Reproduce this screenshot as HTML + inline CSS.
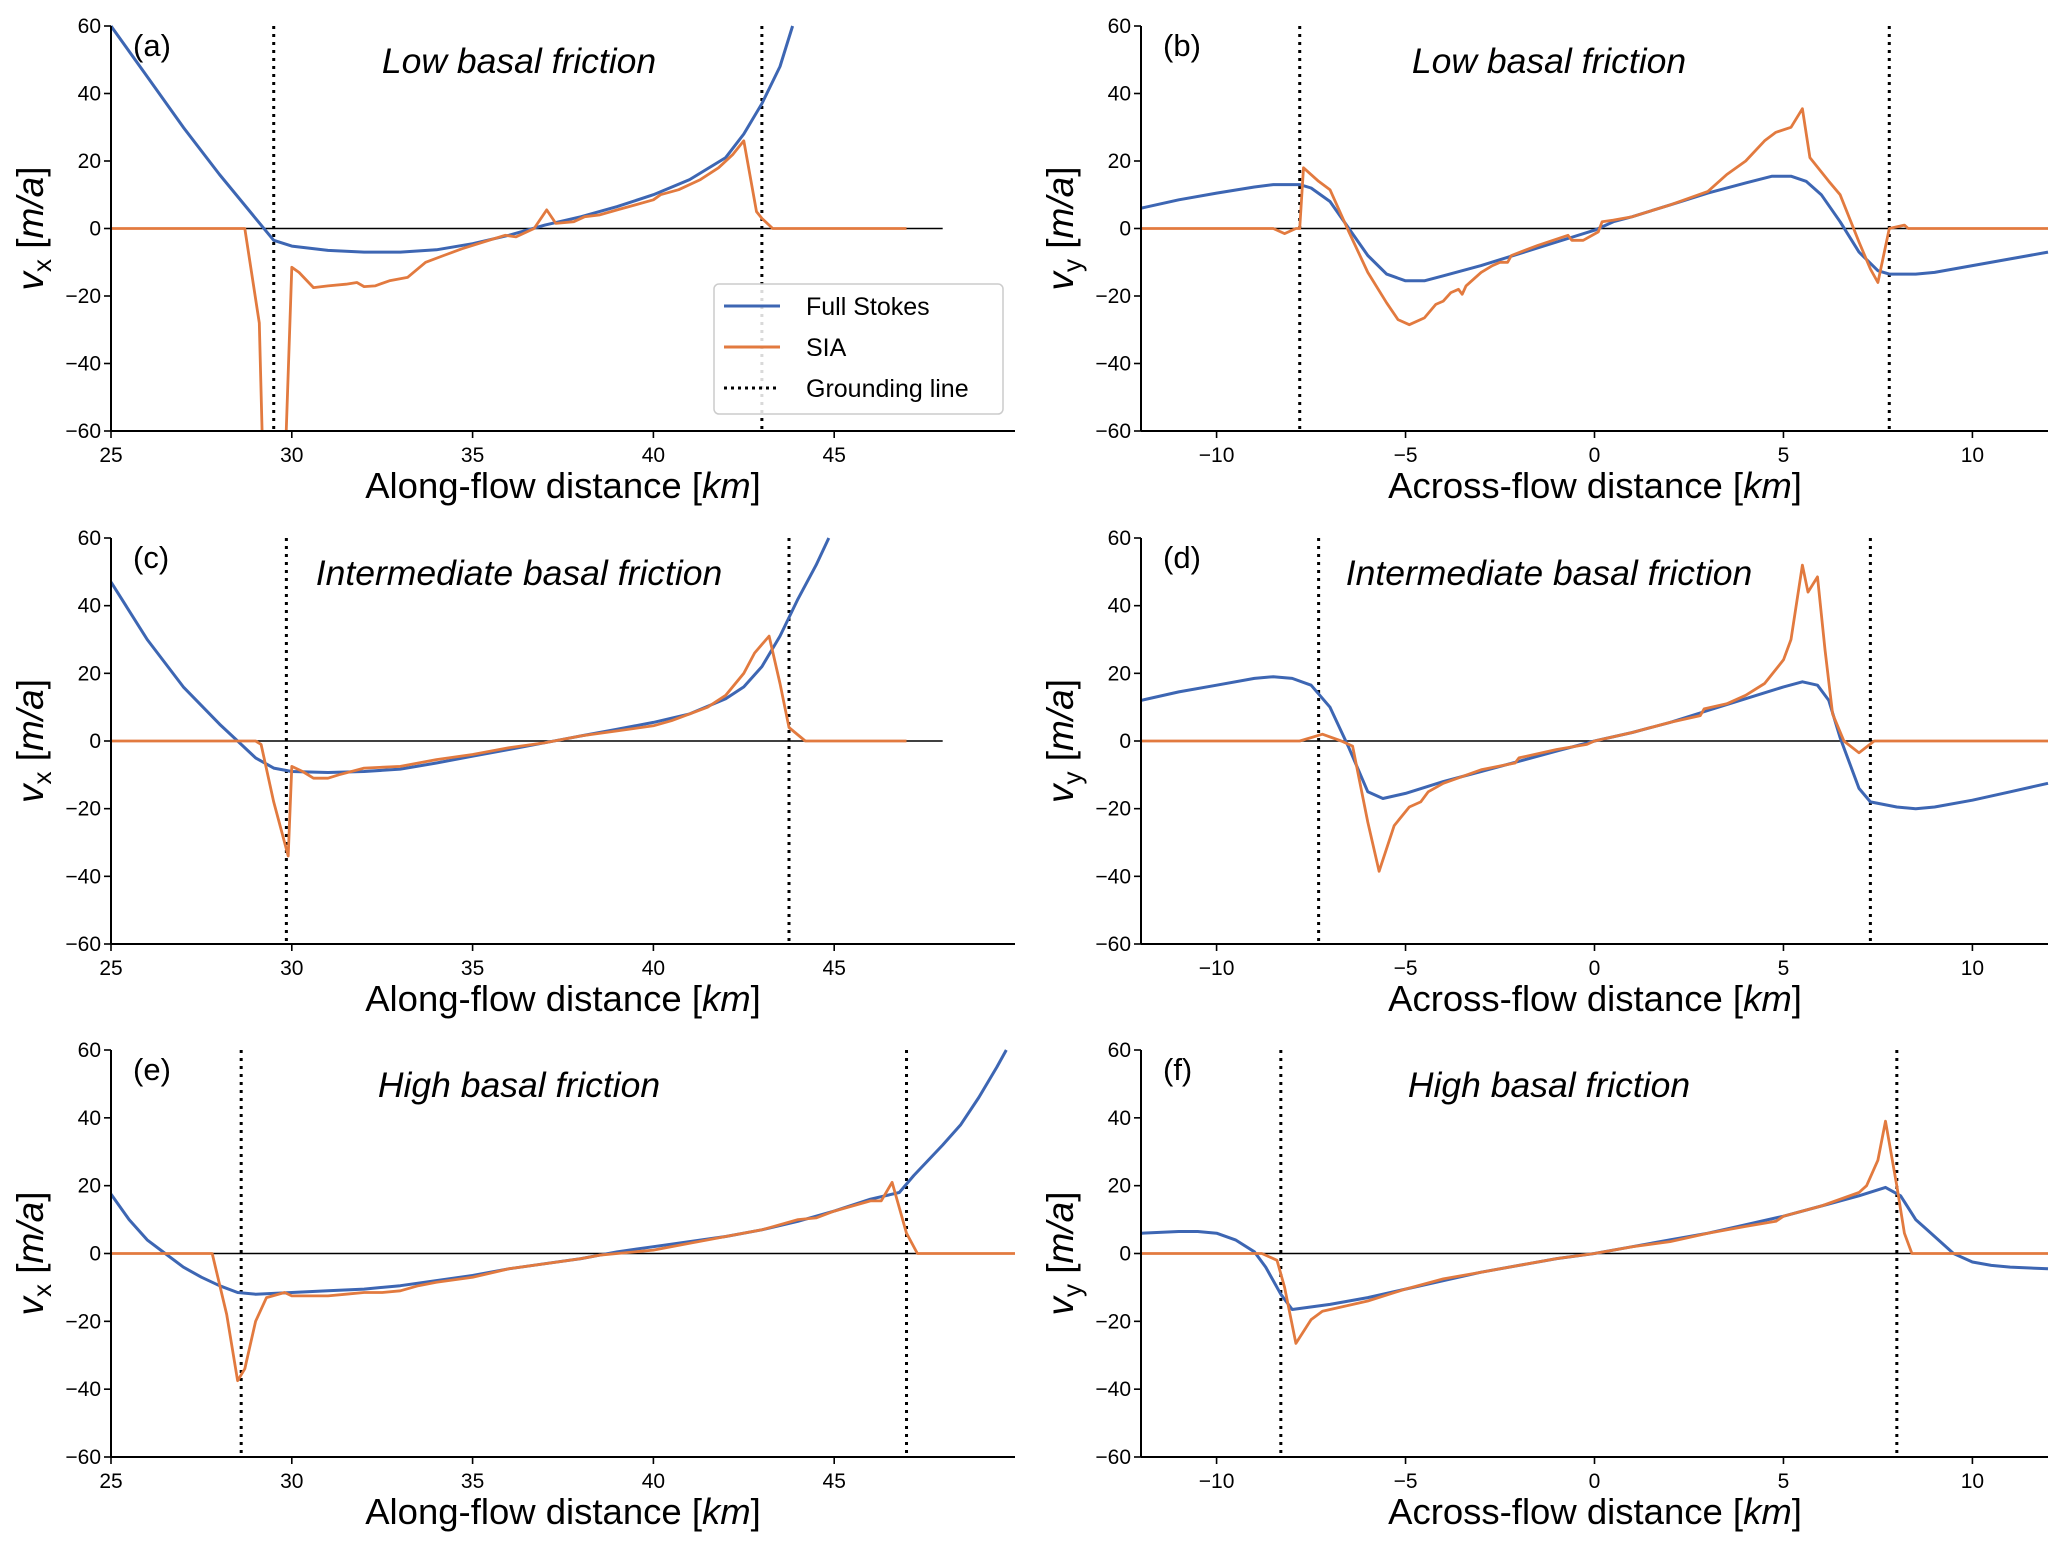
<!DOCTYPE html>
<html><head><meta charset="utf-8">
<style>
html,body{margin:0;padding:0;background:#fff;}
svg{display:block;font-family:"Liberation Sans",Arial,sans-serif;}
</style></head>
<body>
<svg id="fig" width="2067" height="1547" viewBox="0 0 2067 1547" xmlns="http://www.w3.org/2000/svg"></svg>
<script>
// ---- data ----
const aBlueX=[25,26,27,28,29,29.5,30,31,32,33,34,35,36,37,38,39,40,41,42,42.5,43,43.5,43.85];
const aBlueY=[60,45,30,16,3,-3.5,-5.2,-6.5,-7,-7,-6.3,-4.5,-2,1,3.5,6.5,10,14.5,21,28,37,48,60];
const aSiaX=[25,28.7,29.1,29.25,29.75,30,30.2,30.6,31,31.5,31.8,32,32.3,32.7,33.2,33.7,34.2,34.7,35.3,35.9,36.2,36.7,37.05,37.3,37.8,38.1,38.5,39,39.5,40,40.2,40.7,41.3,41.8,42.2,42.5,42.85,43,43.3,47];
const aSiaY=[0,0,-28,-90,-90,-11.5,-13,-17.5,-17,-16.5,-16,-17.2,-17,-15.5,-14.5,-10,-8,-6,-4,-2,-2.5,0,5.5,1.5,2,3.5,4,5.5,7,8.5,10,11.5,14.5,18,22,26,5,3,0,0];
const bBlueX=[-12,-11,-10,-9,-8.5,-7.8,-7.5,-7,-6.5,-6,-5.5,-5,-4.5,-4,-3,-2,-1,0,0.5,1,2,3,4,4.7,5.2,5.6,6,6.5,7,7.5,7.8,8.5,9,10,11,12];
const bBlueY=[6,8.5,10.5,12.3,13,13,12,8,0,-8,-13.5,-15.5,-15.5,-14,-11,-7.5,-4,-0.5,2,3.5,7,10.5,13.5,15.5,15.5,14,10,2,-7,-12.5,-13.5,-13.5,-13,-11,-9,-7];
const bSiaX=[-12,-8.5,-8.2,-7.9,-7.8,-7.7,-7.3,-7,-6.5,-6,-5.5,-5.2,-4.9,-4.5,-4.2,-4,-3.8,-3.6,-3.5,-3.4,-3,-2.7,-2.5,-2.3,-2.2,-1.5,-0.7,-0.6,-0.3,0.1,0.2,0.5,1,2,3,3.5,4,4.5,4.8,5.2,5.5,5.7,6.2,6.5,7,7.3,7.5,7.8,8.2,8.3,12];
const bSiaY=[0,0,-1.5,0,0,18,14,11.5,-1,-13,-22,-27,-28.5,-26.5,-22.5,-21.5,-19,-18,-19.5,-17,-13,-11,-10,-10,-8,-5,-2,-3.5,-3.5,-1,2,2.5,3.5,7,11,16,20,26,28.5,30,35.5,21,14,10,-4,-12,-16,0,1,0,0];
const cBlueX=[25,26,27,28,28.5,29,29.5,30,31,32,33,34,35,36,37,37.5,38,39,40,41,42,42.5,43,43.5,44,44.5,44.85];
const cBlueY=[47,30,16,5,0,-5,-8,-9,-9.3,-9,-8.3,-6.5,-4.5,-2.5,-0.5,0.5,1.5,3.5,5.5,8,12.5,16,22,31,42,52,60];
const cSiaX=[25,29,29.15,29.5,29.9,30,30.3,30.6,31,31.3,32,33,34,35,36,37,38,39,40,40.5,41,41.5,42,42.5,42.8,43.2,43.5,43.75,44.2,47];
const cSiaY=[0,0,-1,-18,-34,-7.5,-9,-11,-11,-10,-8,-7.5,-5.5,-4,-2,-0.5,1.5,3,4.5,6,8,10,13.5,20,26,31,17,4,0,0];
const dBlueX=[-12,-11,-10,-9,-8.5,-8,-7.5,-7,-6.5,-6,-5.6,-5,-4,-3,-2,-1,0,1,2,3,4,5,5.5,5.9,6.2,6.5,7,7.3,8,8.5,9,10,11,12];
const dBlueY=[12,14.5,16.5,18.5,19,18.5,16.5,10,-2,-15,-17,-15.5,-12,-9,-6,-3,0,2.5,5.5,9,12.5,16,17.5,16.5,12,1,-14,-18,-19.5,-20,-19.5,-17.5,-15,-12.5];
const dSiaX=[-12,-7.8,-7.5,-7.2,-6.7,-6.4,-6,-5.7,-5.3,-4.9,-4.6,-4.4,-4,-3,-2.1,-2,-1,-0.2,0,1,2,2.8,2.9,3.5,4,4.5,5,5.2,5.5,5.65,5.9,6.1,6.3,6.6,7,7.4,12];
const dSiaY=[0,0,1,2,0,-1.5,-24,-38.5,-25,-19.5,-18,-15,-12.5,-8.5,-6.5,-5,-2.5,-1,0,2.5,5.5,7.5,9.5,11,13.5,17,24,30,52,44,48.5,27,8,0,-3.5,0,0];
const eBlueX=[25,25.5,26,26.5,27,27.5,28,28.5,29,30,31,32,33,34,35,36,37,38,39,40,41,42,43,44,45,46,46.8,47.2,48,48.5,49,49.5,49.76];
const eBlueY=[17.5,10,4,0,-4,-7,-9.5,-11.5,-12,-11.5,-11,-10.5,-9.5,-8,-6.5,-4.5,-3,-1.5,0.5,2,3.5,5,7,9.5,12.5,16,18,23,32,38,46,55,60];
const eSiaX=[25,27.8,28.2,28.5,28.7,29,29.3,29.8,30,31,31.5,32,32.5,33,33.5,34,35,36,37,38,38.5,39,40,41,42,43,44,44.5,45,46,46.3,46.6,47,47.3,50];
const eSiaY=[0,0,-18,-37.5,-34,-20,-13,-11.5,-12.5,-12.5,-12,-11.5,-11.5,-11,-9.5,-8.5,-7,-4.5,-3,-1.5,-0.5,0,1,3,5,7,10,10.5,12.5,15.5,15.5,21,6,0,0];
const fBlueX=[-12,-11,-10.5,-10,-9.5,-9,-8.7,-8.3,-8,-7,-6,-5,-4,-3,-2,-1,0,1,2,3,4,5,6,7,7.7,8.1,8.5,8.8,9.5,10,10.5,11,12];
const fBlueY=[6,6.5,6.5,6,4,0.5,-4,-12,-16.5,-15,-13,-10.5,-8,-5.5,-3.5,-1.5,0,2,4,6,8.5,11,14,17,19.5,17,10,7,0,-2.5,-3.5,-4,-4.5];
const fSiaX=[-12,-8.8,-8.4,-8.2,-7.9,-7.5,-7.2,-6,-5,-4,-3,-2,-1,0,1,2,3,4,4.8,5,6,7,7.2,7.5,7.7,8.0,8.2,8.4,12];
const fSiaY=[0,0,-2,-10,-26.5,-19.5,-17,-14,-10.5,-7.5,-5.5,-3.5,-1.5,0,2,3.5,6,8,9.5,11,14,18,20,27.5,39,20,6,0,0];
const leftTicks=[25,30,35,40,45];
const rightTicks=[-10,-5,0,5,10];
const yTicks=[-60,-40,-20,0,20,40,60];
const titles=["Low basal friction","Low basal friction","Intermediate basal friction","Intermediate basal friction","High basal friction","High basal friction"];
const letters=["(a)","(b)","(c)","(d)","(e)","(f)"];
const groundA=[29.5,43.0], groundB=[-7.8,7.8], groundC=[29.85,43.75], groundD=[-7.3,7.3], groundE=[28.6,47.0], groundF=[-8.3,8.0];

const NS="http://www.w3.org/2000/svg";
const svg=document.getElementById('fig');
const BLUE="#3d66b3", ORANGE="#e27a3f";
function mk(tag,attrs,parent){const e=document.createElementNS(NS,tag);for(const k in attrs)e.setAttribute(k,attrs[k]);(parent||svg).appendChild(e);return e;}

const rows=[[26,431],[538,944],[1050,1457]];
const panels=[
 {col:0,row:0,bx:aBlueX,by:aBlueY,sx:aSiaX,sy:aSiaY,g:groundA,zeroEnd:48,legend:true},
 {col:1,row:0,bx:bBlueX,by:bBlueY,sx:bSiaX,sy:bSiaY,g:groundB,zeroEnd:12},
 {col:0,row:1,bx:cBlueX,by:cBlueY,sx:cSiaX,sy:cSiaY,g:groundC,zeroEnd:48},
 {col:1,row:1,bx:dBlueX,by:dBlueY,sx:dSiaX,sy:dSiaY,g:groundD,zeroEnd:12},
 {col:0,row:2,bx:eBlueX,by:eBlueY,sx:eSiaX,sy:eSiaY,g:groundE,zeroEnd:50},
 {col:1,row:2,bx:fBlueX,by:fBlueY,sx:fSiaX,sy:fSiaY,g:groundF,zeroEnd:12}
];

panels.forEach((p,i)=>{
  const top=rows[p.row][0], bot=rows[p.row][1];
  const left=p.col===0?111:1141, right=p.col===0?1015:2048;
  const xmin=p.col===0?25:-12, xmax=p.col===0?50:12;
  const X=v=>left+(v-xmin)/(xmax-xmin)*(right-left);
  const Y=v=>bot-(v+60)/120*(bot-top);
  const g=mk('g',{});
  
  
  const clipId='clip'+i;
  const cp=mk('clipPath',{id:clipId},g);
  mk('rect',{x:left,y:top-1,width:right-left+2,height:bot-top+2},cp);
  const zl=mk('line',{x1:X(xmin),x2:X(p.zeroEnd),y1:Y(0),y2:Y(0),stroke:'#000','stroke-width':1.6},g);
  
  
  p.g.forEach(gv=>{
    const l=mk('line',{x1:X(gv),x2:X(gv),y1:top,y2:bot,stroke:'#000','stroke-width':3,'stroke-dasharray':'3,5'},g);
    
    
  });
  const pts=(xs,ys)=>xs.map((x,k)=>X(x).toFixed(1)+','+Y(ys[k]).toFixed(1)).join(' ');
  const bl=mk('polyline',{points:pts(p.bx,p.by),fill:'none',stroke:BLUE,'stroke-width':3,'stroke-linejoin':'round','clip-path':'url(#'+clipId+')'},g);
  
  
  const ol=mk('polyline',{points:pts(p.sx,p.sy),fill:'none',stroke:ORANGE,'stroke-width':2.8,'stroke-linejoin':'round','clip-path':'url(#'+clipId+')'},g);
  
  
  const ya=mk('line',{x1:left,x2:left,y1:top,y2:bot,stroke:'#000','stroke-width':2},g);
  
  
  const xa=mk('line',{x1:left,x2:right,y1:bot,y2:bot,stroke:'#000','stroke-width':2},g);
  
  
  yTicks.forEach(t=>{
    mk('line',{x1:left-7,x2:left,y1:Y(t),y2:Y(t),stroke:'#000','stroke-width':1.6},g);
    const tx=mk('text',{x:left-10,y:Y(t)+7,'text-anchor':'end','font-size':21},g);
    tx.textContent=t<0?'\u2212'+(-t):String(t);
    
    
  });
  (p.col===0?leftTicks:rightTicks).forEach(t=>{
    mk('line',{x1:X(t),x2:X(t),y1:bot,y2:bot+7,stroke:'#000','stroke-width':1.6},g);
    const tx=mk('text',{x:X(t),y:bot+31,'text-anchor':'middle','font-size':21},g);
    tx.textContent=t<0?'\u2212'+(-t):String(t);
    
    
  });
  const xl=mk('text',{x:(p.col===0?563:1595),y:bot+67,'text-anchor':'middle','font-size':36.5},g);
  xl.innerHTML=(p.col===0?'Along-flow distance [':'Across-flow distance [')+'<tspan font-style="italic">km</tspan>]';
  
  
  const cy=(top+bot)/2, cx=(p.col===0?43:1073);
  const yl=mk('text',{x:cx,y:cy,'text-anchor':'middle','font-size':37,transform:'rotate(-90 '+cx+' '+cy+')'},g);
  yl.innerHTML='<tspan font-style="italic">v</tspan><tspan font-size="26" dy="8">'+(p.col===0?'x':'y')+'</tspan><tspan dy="-8"> [</tspan><tspan font-style="italic">m/a</tspan>]';
  
  
  const pl=mk('text',{x:left+22,y:top+30,'font-size':31},g);
  pl.textContent=letters[i];
  
  
  const tt=mk('text',{x:(p.col===0?519:1549),y:top+47,'text-anchor':'middle','font-size':35.5,'font-style':'italic'},g);
  tt.textContent=titles[i];
  
  
  if(p.legend){
    const lg=mk('g',{},g);
    
    
    mk('rect',{x:714,y:284,width:289,height:130,rx:5,fill:'#fff','fill-opacity':0.85,stroke:'#cccccc','stroke-width':1.5},lg);
    const items=[['Full Stokes',BLUE,null],['SIA',ORANGE,null],['Grounding line','#000','3,4']];
    items.forEach((it,k)=>{
      const yy=306+k*41;
      const ln=mk('line',{x1:724,x2:780,y1:yy,y2:yy,stroke:it[1],'stroke-width':3},lg);
      if(it[2])ln.setAttribute('stroke-dasharray',it[2]);
      
      
      const t=mk('text',{x:806,y:yy+9,'font-size':25},lg);
      t.textContent=it[0];
      
      
    });
  }
});
</script>
</body></html>
